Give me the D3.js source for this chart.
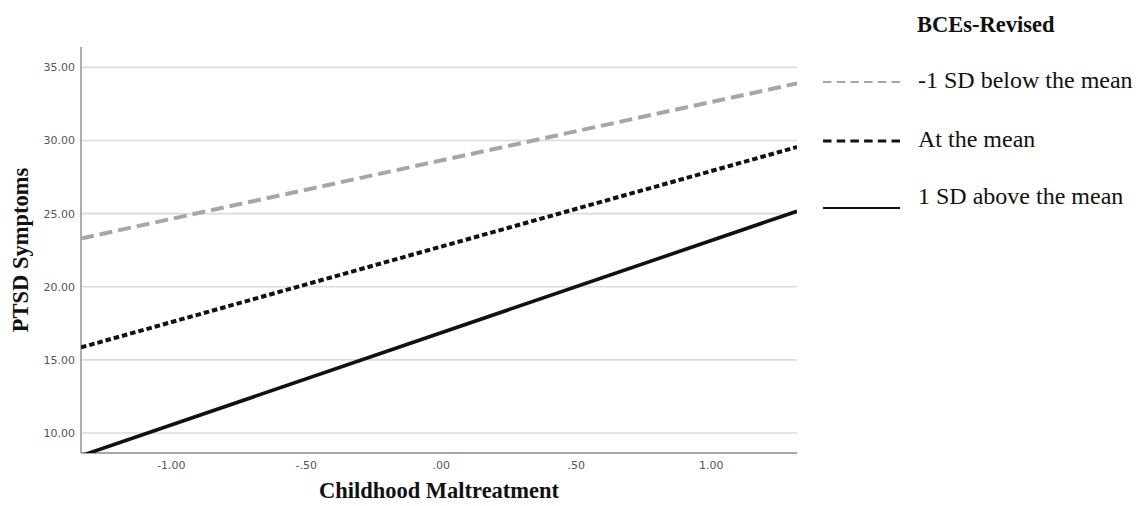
<!DOCTYPE html>
<html>
<head>
<meta charset="utf-8">
<script src="https://d3js.org/d3.v7.min.js"></script>
<style>
  body { margin: 0; background: #fff; }
  .tickLbl { font-family: "DejaVu Sans", sans-serif; font-size: 11px; fill: #555; }
  .axisTitle { font-family: "Liberation Serif", "Times New Roman", serif; font-weight: bold; font-size: 22.5px; fill: #111; }
  .legendTxt { font-family: "Liberation Serif", "Times New Roman", serif; font-size: 24px; fill: #111; }
</style>
</head>
<body>
<svg class="chart"></svg>
<script>
// data
const xEnds = [-1.333, 1.32]
const belowMean = [23.3, 33.9]
const atMean = [15.85, 29.55]
const aboveMean = [8.44, 25.16]

const seriesNames = ['-1 SD below the mean', 'At the mean', '1 SD above the mean']
const xTicks = [-1, -0.5, 0, 0.5, 1]
const xTickText = ['-1.00', '-.50', '.00', '.50', '1.00']
const yTicks = [10, 15, 20, 25, 30, 35]
const yTickText = ['10.00', '15.00', '20.00', '25.00', '30.00', '35.00']

const totalWidth = 1138, totalHeight = 506;
const plot = { left: 81, right: 797, top: 47, bottom: 453 };

const svg = d3.select(".chart")
  .attr("width", totalWidth)
  .attr("height", totalHeight);

const xScale = d3.scaleLinear()
  .domain(xEnds)
  .range([plot.left, plot.right]);

const yScale = d3.scaleLinear()
  .domain([8.63, 36.39])
  .range([plot.bottom, plot.top]);

svg.append("clipPath").attr("id", "plotClip")
  .append("rect")
  .attr("x", plot.left).attr("y", plot.top)
  .attr("width", plot.right - plot.left)
  .attr("height", plot.bottom - plot.top);

// gridlines
svg.selectAll(".grid")
  .data(yTicks)
  .enter()
  .append("line")
  .attr("x1", plot.left).attr("x2", plot.right)
  .attr("y1", d => yScale(d)).attr("y2", d => yScale(d))
  .attr("stroke", "#dcdcdc")
  .attr("stroke-width", 1.6);

// axes (no tick marks, only labels)
const yAxis = svg.append("g")
  .attr("transform", "translate(" + plot.left + ",0)")
  .call(d3.axisLeft(yScale).tickValues(yTicks).tickSize(0).tickPadding(6)
    .tickFormat((d, i) => yTickText[i]));
yAxis.select(".domain").remove();
yAxis.selectAll("text").attr("class", "tickLbl").attr("font-family", null).attr("font-size", null);

const xAxis = svg.append("g")
  .attr("transform", "translate(0," + plot.bottom + ")")
  .call(d3.axisBottom(xScale).tickValues(xTicks).tickSize(0).tickPadding(8)
    .tickFormat((d, i) => xTickText[i]));
xAxis.select(".domain").remove();
xAxis.selectAll("text").attr("class", "tickLbl").attr("font-family", null).attr("font-size", null);

svg.append("line")
  .attr("x1", plot.left).attr("x2", plot.left)
  .attr("y1", plot.top).attr("y2", plot.bottom)
  .attr("stroke", "#9a9a9a").attr("stroke-width", 1.6);
svg.append("line")
  .attr("x1", plot.left).attr("x2", plot.right)
  .attr("y1", plot.bottom).attr("y2", plot.bottom)
  .attr("stroke", "#8a8a8a").attr("stroke-width", 1.6);

// lines
const lineStyles = [
  { color: "#a6a6a6", dash: "13,6", width: 4, legendDash: "8.5,5.2", legendWidth: 2.2 },
  { color: "#111", dash: "5.5,3", width: 4, legendDash: "8.5,5.2", legendWidth: 3 },
  { color: "#111", dash: null, width: 3.6, legendDash: null, legendWidth: 2 }
];
const seriesValues = [belowMean, atMean, aboveMean];

const line = d3.line()
  .x(d => xScale(d[0]))
  .y(d => yScale(d[1]));

svg.append("g")
  .attr("clip-path", "url(#plotClip)")
  .selectAll("path")
  .data(seriesValues)
  .enter()
  .append("path")
  .attr("d", vals => line(xEnds.map((x, i) => [x, vals[i]])))
  .attr("fill", "none")
  .attr("stroke", (d, i) => lineStyles[i].color)
  .attr("stroke-width", (d, i) => lineStyles[i].width)
  .attr("stroke-dasharray", (d, i) => lineStyles[i].dash);

// axis titles
svg.append("text")
  .attr("class", "axisTitle")
  .attr("x", (plot.left + plot.right) / 2)
  .attr("y", 498)
  .style("text-anchor", "middle")
  .text("Childhood Maltreatment");

svg.append("text")
  .attr("class", "axisTitle")
  .attr("transform", "translate(28," + ((plot.top + plot.bottom) / 2) + ") rotate(-90)")
  .style("text-anchor", "middle")
  .text("PTSD Symptoms");

// legend
svg.append("text")
  .attr("class", "axisTitle")
  .attr("x", 917)
  .attr("y", 32)
  .style("font-size", "22.5px")
  .text("BCEs-Revised");

const legendLineY = [82, 141, 208];
const legendTextY = [88, 147, 204];

svg.selectAll(".legLine")
  .data(seriesNames)
  .enter()
  .append("line")
  .attr("x1", 823).attr("x2", 900)
  .attr("y1", (d, i) => legendLineY[i]).attr("y2", (d, i) => legendLineY[i])
  .attr("stroke", (d, i) => lineStyles[i].color)
  .attr("stroke-width", (d, i) => lineStyles[i].legendWidth)
  .attr("stroke-dasharray", (d, i) => lineStyles[i].legendDash);

svg.selectAll(".legTxt")
  .data(seriesNames)
  .enter()
  .append("text")
  .attr("class", "legendTxt")
  .attr("x", 918)
  .attr("y", (d, i) => legendTextY[i])
  .text(d => d);
</script>
</body>
</html>
